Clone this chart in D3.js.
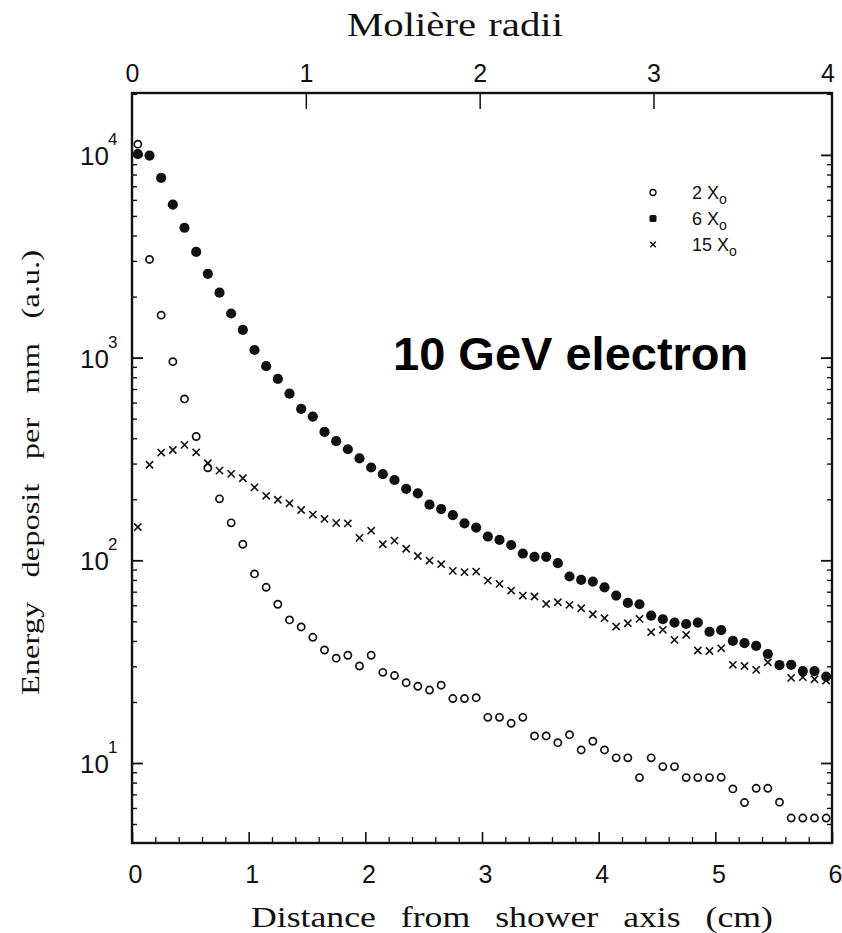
<!DOCTYPE html>
<html>
<head>
<meta charset="utf-8">
<script src="https://cdn.jsdelivr.net/npm/d3@7"></script>
<style>
  body { margin: 0; background: #fff; }
  svg { display: block; }
</style>
</head>
<body>
<svg id="chart" width="842" height="933"></svg>
<script>
// Radial profile of deposited energy for a 10 GeV electron shower,
// sampled at three depths (2, 6 and 15 radiation lengths).
const distanceCm = [
  0.05, 0.15, 0.25, 0.35, 0.45, 0.55, 0.65, 0.75, 0.85, 0.95,
  1.05, 1.15, 1.25, 1.35, 1.45, 1.55, 1.65, 1.75, 1.85, 1.95,
  2.05, 2.15, 2.25, 2.35, 2.45, 2.55, 2.65, 2.75, 2.85, 2.95,
  3.05, 3.15, 3.25, 3.35, 3.45, 3.55, 3.65, 3.75, 3.85, 3.95,
  4.05, 4.15, 4.25, 4.35, 4.45, 4.55, 4.65, 4.75, 4.85, 4.95,
  5.05, 5.15, 5.25, 5.35, 5.45, 5.55, 5.65, 5.75, 5.85, 5.95
];
const deposit2X0 = [
  11300, 3050, 1620, 955, 625, 408, 286, 201, 153, 120,
  85.7, 73.6, 60.7, 50.8, 46.9, 41.7, 36.1, 32.9, 34.0, 30.1,
  34.0, 28.0, 27.0, 24.9, 23.9, 22.9, 24.2, 20.8, 20.8, 21.0,
  16.8, 16.8, 15.7, 16.8, 13.6, 13.6, 12.6, 13.8, 11.6, 12.8,
  11.6, 10.6, 10.6, 8.47, 10.6, 9.6, 9.6, 8.47, 8.47, 8.47,
  8.5, 7.45, 6.38, 7.5, 7.5, 6.41, 5.35, 5.35, 5.35, 5.35
];
const deposit6X0 = [
  10100, 9920, 7700, 5690, 4370, 3320, 2590, 2090, 1650, 1370,
  1090, 907, 785, 664, 558, 512, 430, 387, 353, 318,
  287, 266, 249, 225, 214, 188, 179, 167, 152, 145,
  131, 126, 119, 108, 104, 104, 96.8, 83.2, 80.0, 78.5,
  73.6, 67.0, 61.6, 60.7, 53.3, 51.2, 49.3, 48.5, 49.3, 44.4,
  45.2, 40.0, 39.0, 37.8, 34.5, 30.4, 30.5, 28.4, 28.4, 26.7
];
const deposit15X0 = [
  146, 296, 340, 350, 371, 341, 301, 277, 267, 254,
  229, 208, 199, 191, 177, 168, 160, 153, 152, 129,
  140, 120, 125, 114, 105, 99.7, 95.7, 88.7, 87.4, 88.0,
  79.4, 76.5, 70.9, 67.0, 66.3, 60.9, 62.1, 60.3, 58.0, 54.2,
  51.8, 47.1, 48.9, 51.4, 44.2, 45.4, 40.5, 42.9, 35.9, 35.7,
  36.8, 30.5, 30.1, 28.8, 31.4, 30.5, 26.3, 26.5, 25.9, 25.5
];
const seriesNames = ["2 X", "6 X", "15 X"];
const distanceTicks = [0, 1, 2, 3, 4, 5, 6];
const moliereTicks = [0, 1, 2, 3, 4];
const moliereInnerTicks = [1, 2, 3];
const decadeExponents = [1, 2, 3, 4];
const moliereRadiusCm = 1.49;

const svg = d3.select("#chart");
const SANS = "'Liberation Sans', Arial, Helvetica, sans-serif";
const SERIF = "'Liberation Serif', 'Times New Roman', Times, serif";

const plot = { left: 132, right: 832, top: 93, bottom: 843 };

const x = d3.scaleLinear().domain([0, 6]).range([plot.left, plot.right]);
const xMoliere = d3.scaleLinear().domain([0, 6 / moliereRadiusCm]).range([plot.left, plot.right]);
const y = d3.scaleLog().domain([4.03, 20200]).range([plot.bottom, plot.top]);

const majorY = decadeExponents.map(e => Math.pow(10, e));
const minorY = y.ticks().filter(v => !majorY.some(m => Math.abs(m - v) < 1e-9));
const majorX = distanceTicks;
const minorX = x.ticks(30).filter(v => Math.abs(v - Math.round(v)) > 1e-6);

function styleTicks(g, width) {
  g.select(".domain").remove();
  g.selectAll(".tick line").attr("stroke", "#111").attr("stroke-width", width);
}

// Inward-pointing ticks on all four sides
svg.append("g").attr("transform", `translate(${plot.left},0)`)
  .call(d3.axisRight(y).tickValues(majorY).tickSize(11).tickFormat(""))
  .call(g => styleTicks(g, 1.8));
svg.append("g").attr("transform", `translate(${plot.left},0)`)
  .call(d3.axisRight(y).tickValues(minorY).tickSize(5).tickFormat(""))
  .call(g => styleTicks(g, 1.4));
svg.append("g").attr("transform", `translate(${plot.right},0)`)
  .call(d3.axisLeft(y).tickValues(majorY).tickSize(11).tickFormat(""))
  .call(g => styleTicks(g, 1.8));
svg.append("g").attr("transform", `translate(${plot.right},0)`)
  .call(d3.axisLeft(y).tickValues(minorY).tickSize(5).tickFormat(""))
  .call(g => styleTicks(g, 1.4));
svg.append("g").attr("transform", `translate(0,${plot.bottom})`)
  .call(d3.axisTop(x).tickValues(majorX).tickSize(11).tickFormat(""))
  .call(g => styleTicks(g, 1.6));
svg.append("g").attr("transform", `translate(0,${plot.bottom})`)
  .call(d3.axisTop(x).tickValues(minorX).tickSize(6).tickFormat(""))
  .call(g => styleTicks(g, 1.3));
svg.append("g").attr("transform", `translate(0,${plot.top})`)
  .call(d3.axisBottom(xMoliere).tickValues(moliereInnerTicks).tickSize(16).tickFormat(""))
  .call(g => styleTicks(g, 1.5));

// Frame
svg.append("rect")
  .attr("x", plot.left).attr("y", plot.top)
  .attr("width", plot.right - plot.left).attr("height", plot.bottom - plot.top)
  .attr("fill", "none").attr("stroke", "#111").attr("stroke-width", 2.4);

// Tick labels: bottom (cm)
svg.append("g").attr("transform", `translate(0,${plot.bottom})`)
  .call(d3.axisBottom(x).tickValues(distanceTicks).tickSize(0).tickPadding(22).tickFormat(d3.format("d")))
  .call(g => {
    g.select(".domain").remove();
    g.selectAll("text").attr("font-family", SANS).attr("font-size", 25)
      .attr("fill", "#111").attr("dx", 3);
  });

// Tick labels: top (Molière radii)
svg.append("g").attr("transform", `translate(0,${plot.top})`)
  .call(d3.axisTop(xMoliere).tickValues(moliereTicks).tickSize(0).tickPadding(11).tickFormat(d3.format("d")))
  .call(g => {
    g.select(".domain").remove();
    g.selectAll("text").attr("font-family", SANS).attr("font-size", 25).attr("fill", "#111");
  });

// Tick labels: left, as powers of ten
const yLabels = svg.append("g");
decadeExponents.forEach(e => {
  const yy = y(Math.pow(10, e));
  yLabels.append("text")
    .attr("x", 109).attr("y", yy + 10)
    .attr("text-anchor", "end")
    .attr("font-family", SANS).attr("font-size", 26).attr("fill", "#111")
    .text("10");
  yLabels.append("text")
    .attr("x", 108).attr("y", yy - 10)
    .attr("font-family", SANS).attr("font-size", 17).attr("fill", "#111")
    .text(String(e));
});

// Place a serif title: glyphs widened by sx, word gaps opened so the
// whole line spans `target` pixels.
function serifTitle(label, size, sx, target, transform) {
  const t = svg.append("text")
    .attr("transform", `${transform} scale(${sx},1)`)
    .attr("font-family", SERIF).attr("font-size", size).attr("fill", "#111")
    .text(label);
  const w = t.node().getComputedTextLength();
  const n = (label.match(/ /g) || []).length;
  if (n) t.attr("word-spacing", Math.max(0, (target / sx - w) / n));
  return t;
}

serifTitle("Molière radii", 34, 1.2, 216, "translate(347,36)");
serifTitle("Distance from shower axis (cm)", 30, 1.19, 522, "translate(251,927)");
serifTitle("Energy deposit per mm (a.u.)", 26, 1.25, 445, "translate(39,695) rotate(-90)");

// Data markers
const pts = arr => arr.map((v, i) => [x(distanceCm[i]), y(v)]);

svg.append("g").selectAll("circle")
  .data(pts(deposit2X0)).join("circle")
  .attr("cx", d => d[0]).attr("cy", d => d[1]).attr("r", 3.6)
  .attr("fill", "#fff").attr("stroke", "#111").attr("stroke-width", 1.7);

const crossPath = s => `M${-s},${-s}L${s},${s}M${-s},${s}L${s},${-s}`;
svg.append("g").selectAll("path")
  .data(pts(deposit15X0)).join("path")
  .attr("transform", d => `translate(${d[0]},${d[1]})`)
  .attr("d", crossPath(3.6))
  .attr("fill", "none").attr("stroke", "#111").attr("stroke-width", 1.6);

svg.append("g").selectAll("circle")
  .data(pts(deposit6X0)).join("circle")
  .attr("cx", d => d[0]).attr("cy", d => d[1]).attr("r", 5.1)
  .attr("fill", "#111");

// Legend
const legend = svg.append("g").attr("transform", "translate(653,0)");
const rows = [192.5, 218.5, 244.5];
legend.append("circle").attr("cx", 0).attr("cy", rows[0]).attr("r", 3)
  .attr("fill", "#fff").attr("stroke", "#111").attr("stroke-width", 1.4);
legend.append("rect").attr("x", -3.5).attr("y", rows[1] - 3.5).attr("width", 7).attr("height", 7)
  .attr("rx", 1.5).attr("fill", "#111");
legend.append("path").attr("transform", `translate(0,${rows[2]})`).attr("d", crossPath(2.8))
  .attr("stroke", "#111").attr("stroke-width", 1.4).attr("fill", "none");
seriesNames.forEach((name, i) => {
  const t = legend.append("text")
    .attr("x", 39).attr("y", rows[i] + 6)
    .attr("font-family", SANS).attr("font-size", 18).attr("fill", "#111")
    .text(name);
  t.append("tspan").attr("dy", 5).attr("font-size", 14).text("o");
});

// Annotation
svg.append("text")
  .attr("x", 393).attr("y", 370)
  .attr("font-family", SANS).attr("font-weight", "bold").attr("font-size", 47)
  .attr("fill", "#000")
  .text("10 GeV electron");
</script>
</body>
</html>
